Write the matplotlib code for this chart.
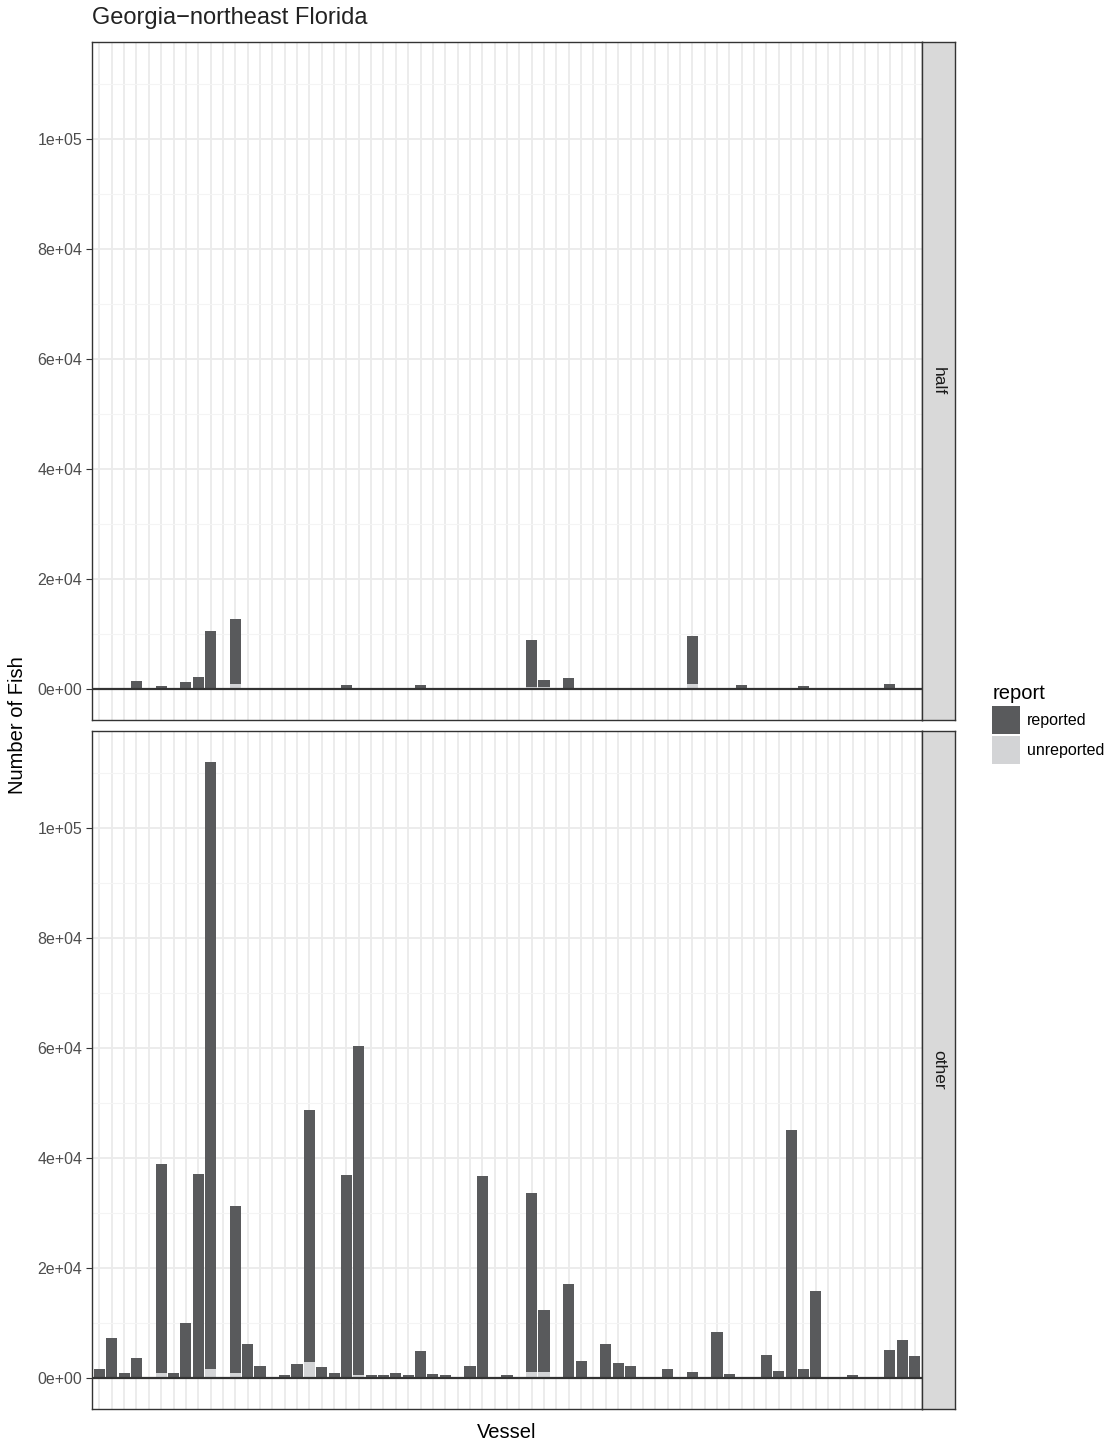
"""Stacked bars of reported / unreported fish per vessel, faceted by trip type"""
import numpy as np
import matplotlib.pyplot as plt
from matplotlib.patches import Patch

plt.rcParams['font.family'] = ['Liberation Sans', 'DejaVu Sans']

n_vessels = 67
vessels = np.arange(n_vessels)

# half-day trips (top facet): vessel index -> (reported, unreported)
half_idx = [3, 5, 7, 8, 9, 11, 20, 26, 35, 36, 38, 48, 52, 57, 64]
half_rep = [1500, 550, 1250, 2200, 10300, 11900, 650, 650, 8600, 1300, 2000, 8700, 750, 550, 950]
half_unrep = [50, 50, 50, 100, 300, 900, 50, 50, 400, 400, 100, 900, 50, 50, 50]

# other trips (bottom facet)
other_idx = [0, 1, 2, 3, 4, 5, 6, 7, 8, 9, 10, 11, 12, 13, 15, 16, 17, 18, 19, 20,
             21, 22, 23, 24, 25, 26, 27, 28, 29, 30, 31, 33, 35, 36, 38, 39, 40, 41,
             42, 43, 46, 47, 48, 50, 51, 54, 55, 56, 57, 58, 59, 61, 64, 65, 66]
other_rep = [1500, 7200, 850, 3500, 200, 37900, 850, 9900, 36900, 110300, 300, 30300,
             6100, 2100, 450, 2500, 45800, 1900, 950, 36600,
             60000, 450, 450, 950, 450, 4900, 750, 450, 200, 2100, 36400, 450, 32600,
             11200, 16800, 3000, 300, 6100,
             2600, 2100, 1600, 300, 1050, 8300, 750, 3900, 1250, 44800, 1550, 15600,
             300, 450, 5100, 6900, 4000]
other_unrep = [100, 100, 50, 100, 0, 1000, 50, 100, 200, 1700, 0, 1000,
               100, 100, 50, 100, 2900, 100, 50, 300,
               500, 50, 50, 50, 50, 100, 50, 50, 0, 100, 300, 50, 1100,
               1200, 300, 100, 0, 100,
               100, 100, 100, 0, 50, 100, 50, 300, 50, 300, 50, 300,
               0, 50, 100, 100, 100]

facets = [("half", half_idx, half_rep, half_unrep),
          ("other", other_idx, other_rep, other_unrep)]

rep_color = '#595A5C'
unrep_color = '#D3D4D6'
grid_major = '#EBEBEB'
grid_minor = '#F4F4F4'
border = '#333333'
text_grey = '#4D4D4D'

W, H = 1109, 1443
fig = plt.figure(figsize=(W / 100, H / 100), dpi=100)

left, right = 92, 922
panels = [(42, 720), (731, 1409)]
strip_w = 33
ylim = (-5600, 117700)

for (top, bottom), (name, idx, rep, unrep) in zip(panels, facets):
    ax = fig.add_axes([left / W, 1 - bottom / H, (right - left) / W, (bottom - top) / H])
    ax.set_xlim(-0.6, n_vessels - 1 + 0.6)
    ax.set_ylim(*ylim)
    ax.set_yticks(np.arange(0, 100001, 20000))
    ax.set_yticks(np.arange(10000, 110001, 20000), minor=True)
    ax.set_yticklabels(['0e+00', '2e+04', '4e+04', '6e+04', '8e+04', '1e+05'])
    ax.set_xticks(vessels)
    ax.set_xticklabels([])
    ax.tick_params(axis='x', length=0)
    ax.tick_params(axis='y', which='major', length=4, color=border, labelsize=11.5,
                   labelcolor=text_grey, pad=3)
    ax.tick_params(axis='y', which='minor', length=0)
    ax.grid(True, which='major', color=grid_major, linewidth=1.3)
    ax.grid(True, which='minor', axis='y', color=grid_minor, linewidth=0.8)
    ax.set_axisbelow(True)
    for s in ax.spines.values():
        s.set_color(border)
        s.set_linewidth(1.0)

    idx = np.array(idx)
    rep = np.array(rep)
    unrep = np.array(unrep)
    ax.bar(idx, unrep, width=0.9, color=unrep_color, linewidth=0)
    ax.bar(idx, rep, width=0.9, bottom=unrep, color=rep_color, linewidth=0)
    ax.axhline(0, color='#333333', linewidth=1.6)

    # facet strip on the right
    sax = fig.add_axes([right / W, 1 - bottom / H, strip_w / W, (bottom - top) / H])
    sax.set_facecolor('#D9D9D9')
    sax.set_xticks([])
    sax.set_yticks([])
    for s in sax.spines.values():
        s.set_color(border)
        s.set_linewidth(1.0)
    sax.text(0.5, 0.5, name, rotation=-90, ha='center', va='center',
             fontsize=12.5, color='#1A1A1A', transform=sax.transAxes)

fig.text(92 / W, 1 - 18 / H, 'Georgia\u2212northeast Florida', fontsize=17,
         ha='left', va='center', color='#222222')
fig.text(507 / W, 1 - 1432 / H, 'Vessel', fontsize=14.5, ha='center', va='center')
fig.text(18 / W, 1 - 725 / H, 'Number of Fish', fontsize=14.5, rotation=90,
         ha='center', va='center')

handles = [Patch(facecolor=rep_color, edgecolor='none', label='reported'),
           Patch(facecolor=unrep_color, edgecolor='none', label='unreported')]
leg = fig.legend(handles=handles, title='report', loc='upper left',
                 bbox_to_anchor=(986 / W, 1 - 678 / H), frameon=False,
                 fontsize=11.5, title_fontsize=14.5, handlelength=1.75, handleheight=2.3,
                 handletextpad=0.4, labelspacing=0.15, borderaxespad=0)
leg._legend_box.align = 'left'

fig.savefig('out.png', dpi=100)
